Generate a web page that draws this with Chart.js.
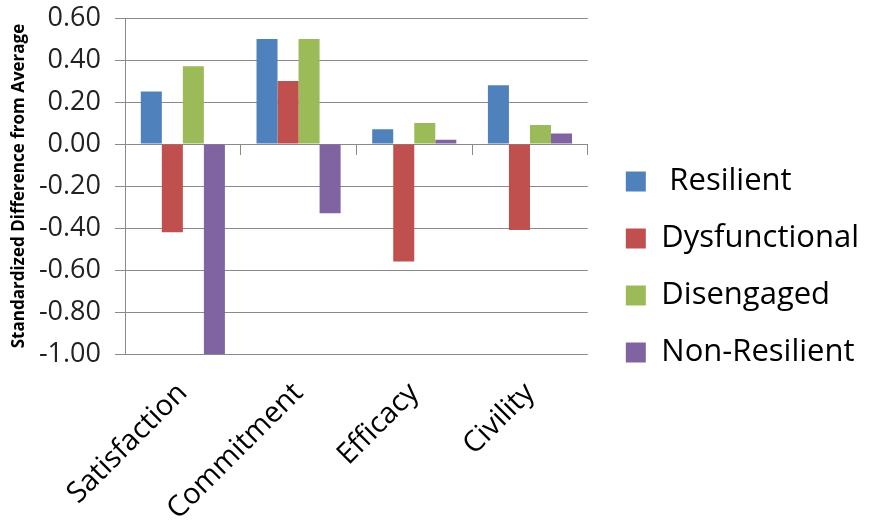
<!DOCTYPE html>
<html><head><meta charset="utf-8">
<script src="https://cdn.jsdelivr.net/npm/chart.js@4.4.1/dist/chart.umd.min.js"></script>
<style>html,body{margin:0;padding:0;background:#fff}</style>
</head><body>
<canvas id="c" width="869" height="523" style="display:block;width:869px;height:523px"></canvas>
<script>
const categories = ['Satisfaction', 'Commitment', 'Efficacy', 'Civility'];
const seriesNames = [' Resilient', 'Dysfunctional', 'Disengaged', 'Non-Resilient'];
const resilient = [0.25, 0.50, 0.07, 0.28];
const dysfunctional = [-0.42, 0.30, -0.56, -0.41];
const disengaged = [0.37, 0.50, 0.10, 0.09];
const nonResilient = [-1.00, -0.33, 0.02, 0.05];
const yTickValues = [-1.0, -0.8, -0.6, -0.4, -0.2, 0.0, 0.2, 0.4, 0.6];
const yTitle = 'Standardized Difference from Average';

const FONT = "'Open Sans', 'DejaVu Sans', sans-serif";
const GRID = '#8a8a8a';

function ds(label, data, color) {
  return { label, data, backgroundColor: color, borderWidth: 0,
           categoryPercentage: 0.727, barPercentage: 1.0 };
}

new Chart(document.getElementById('c'), {
  type: 'bar',
  data: {
    labels: categories,
    datasets: [
      ds(seriesNames[0], resilient, '#4F81BD'),
      ds(seriesNames[1], dysfunctional, '#C0504D'),
      ds(seriesNames[2], disengaged, '#9BBB59'),
      ds(seriesNames[3], nonResilient, '#8064A2')
    ]
  },
  options: {
    responsive: false,
    animation: false,
    devicePixelRatio: 1,
    layout: { autoPadding: false, padding: { top: 18, bottom: 7, left: 0, right: 0 } },
    plugins: {
      tooltip: { enabled: false },
      legend: {
        position: 'right',
        maxWidth: 320,
        labels: {
          boxWidth: 20, boxHeight: 20, padding: 26,
          color: '#000',
          font: { family: FONT, size: 31 }
        }
      }
    },
    scales: {
      x: {
        type: 'category',
        position: 'bottom',
        grid: { display: false },
        border: { display: false },
        ticks: {
          color: '#000', maxRotation: 45, minRotation: 45, autoSkip: false,
          padding: 14,
          font: { family: FONT, size: 29 }
        },
        afterFit: s => { s.height = 162; }
      },
      x2: {
        type: 'category',
        position: { y: 0 },
        offset: true,
        grid: { drawOnChartArea: false, tickLength: 10, color: GRID, offset: true },
        border: { display: true, color: GRID, width: 1 },
        ticks: { display: false },
        afterFit: s => { s.height = 0; }
      },
      y: {
        type: 'linear',
        position: 'left',
        min: -1.0, max: 0.6,
        afterBuildTicks: s => { s.ticks = yTickValues.map(v => ({ value: v })); },
        grid: { color: GRID, tickLength: 10, drawTicks: true },
        border: { display: true, color: GRID, width: 1 },
        ticks: {
          color: '#222', padding: 14,
          font: { family: FONT, size: 27 },
          callback: v => Number(v).toFixed(2)
        },
        title: {
          display: true, text: yTitle, color: '#000',
          font: { family: FONT, size: 17, weight: 'bold' },
          padding: { top: 9, bottom: 0 }
        },
        afterFit: s => { s.width = 125; s.paddingTop = 0; s.paddingBottom = 0; }
      },
      yR: {
        type: 'linear',
        position: 'right',
        display: true,
        grid: { display: false },
        border: { display: false },
        ticks: { display: false },
        afterFit: s => { s.width = 12; }
      }
    }
  }
});
</script>
</body></html>
